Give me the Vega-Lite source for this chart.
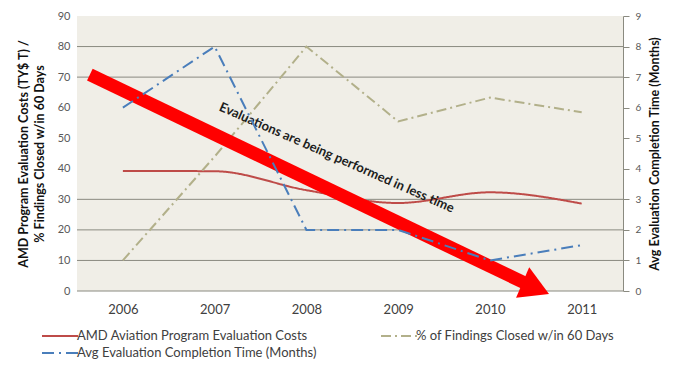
{
  "$schema": "https://vega.github.io/schema/vega-lite/v6.json",
  "width": 546,
  "height": 275,
  "autosize": {"type": "none"},
  "padding": {"left": 77, "top": 16, "right": 56, "bottom": 74},
  "background": "white",
  "config": {"view": {"fill": "#f0eee7", "stroke": null}, "font": "Lato"},
  "datasets": {
    "series": [
      {"year": 2006, "series": "AMD Aviation Program Evaluation Costs", "value": 39.3},
      {"year": 2007, "series": "AMD Aviation Program Evaluation Costs", "value": 39.2},
      {"year": 2008, "series": "AMD Aviation Program Evaluation Costs", "value": 33},
      {"year": 2009, "series": "AMD Aviation Program Evaluation Costs", "value": 28.8},
      {"year": 2010, "series": "AMD Aviation Program Evaluation Costs", "value": 32.3},
      {"year": 2011, "series": "AMD Aviation Program Evaluation Costs", "value": 28.6},
      {"year": 2006, "series": "% of Findings Closed w/in 60 Days", "value": 10},
      {"year": 2007, "series": "% of Findings Closed w/in 60 Days", "value": 44},
      {"year": 2008, "series": "% of Findings Closed w/in 60 Days", "value": 80},
      {"year": 2009, "series": "% of Findings Closed w/in 60 Days", "value": 55.5},
      {"year": 2010, "series": "% of Findings Closed w/in 60 Days", "value": 63.3},
      {"year": 2011, "series": "% of Findings Closed w/in 60 Days", "value": 58.5},
      {"year": 2006, "series": "Avg Evaluation Completion Time (Months)", "value": 6},
      {"year": 2007, "series": "Avg Evaluation Completion Time (Months)", "value": 8},
      {"year": 2008, "series": "Avg Evaluation Completion Time (Months)", "value": 2},
      {"year": 2009, "series": "Avg Evaluation Completion Time (Months)", "value": 2},
      {"year": 2010, "series": "Avg Evaluation Completion Time (Months)", "value": 1},
      {"year": 2011, "series": "Avg Evaluation Completion Time (Months)", "value": 1.5}
    ],
    "grid": [{"value": 0}, {"value": 10}, {"value": 20}, {"value": 30}, {"value": 70}, {"value": 80}],
    "arrow": [{"year": 2005.64, "value": 70.8, "year2": 2010.5, "value2": 0.9}],
    "note": [{"year": 2008.33, "value": 43.6, "label": "Evaluations are being performed in less time"}]
  },
  "layer": [
    {
      "layer": [
        {
          "data": {"name": "grid"},
          "mark": {"type": "rule", "color": "#8a8a80", "strokeWidth": 1},
          "encoding": {
            "y": {
              "field": "value", "type": "quantitative",
              "scale": {"domain": [0, 90]},
              "axis": {
                "orient": "left", "values": [0, 10, 20, 30, 40, 50, 60, 70, 80, 90], "labelOverlap": false,
                "grid": false, "ticks": false, "domain": false,
                "labelFontSize": 11, "labelColor": "#595959", "labelPadding": 7,
                "title": ["AMD  Program Evaluation Costs (TY$ T) /", "% Findings Closed w/in 60 Days"],
                "titleFontSize": 12.5, "titleFontWeight": "bold", "titleColor": "#111111",
                "titleLineHeight": 16, "titlePadding": 11
              }
            }
          }
        },
        {
          "data": {"name": "series"},
          "transform": [{"filter": "datum.series === 'AMD Aviation Program Evaluation Costs'"}],
          "mark": {"type": "line", "strokeWidth": 2, "interpolate": "monotone"},
          "encoding": {
            "x": {
              "field": "year", "type": "quantitative",
              "scale": {"domain": [2005.5, 2011.45], "nice": false, "zero": false},
              "axis": {
                "values": [2006, 2007, 2008, 2009, 2010, 2011], "format": "d",
                "grid": false, "ticks": false, "domain": false,
                "labelFontSize": 13, "labelColor": "#404040", "labelPadding": 12, "title": null
              }
            },
            "y": {
              "field": "value", "type": "quantitative",
              "axis": {
                "orient": "left", "values": [0, 10, 20, 30, 40, 50, 60, 70, 80, 90], "labelOverlap": false,
                "grid": false, "ticks": false, "domain": false,
                "labelFontSize": 11, "labelColor": "#595959", "labelPadding": 7,
                "title": ["AMD  Program Evaluation Costs (TY$ T) /", "% Findings Closed w/in 60 Days"],
                "titleFontSize": 12.5, "titleFontWeight": "bold", "titleColor": "#111111",
                "titleLineHeight": 16, "titlePadding": 11
              }
            },
            "color": {
              "field": "series", "type": "nominal",
              "scale": {
                "domain": ["AMD Aviation Program Evaluation Costs", "% of Findings Closed w/in 60 Days", "Avg Evaluation Completion Time (Months)"],
                "range": ["#be4b48", "#b2b08a", "#4a7ebb"]
              },
              "legend": {
                "orient": "none", "legendX": -27, "legendY": 310, "columns": 2,
                "direction": "horizontal",
                "symbolType": "M-2,0H2", "symbolSize": 324, "symbolStrokeWidth": 2,
                "labelFontSize": 13, "labelColor": "#404040", "labelOffset": 7, "labelLimit": 400,
                "columnPadding": 60, "rowPadding": 0, "title": null
              }
            },
            "strokeDash": {
              "field": "series", "type": "nominal",
              "scale": {
                "domain": ["AMD Aviation Program Evaluation Costs", "% of Findings Closed w/in 60 Days", "Avg Evaluation Completion Time (Months)"],
                "range": [[1, 0], [10, 4, 2, 4], [12, 5, 2, 5]]
              }
            }
          }
        },
        {
          "data": {"name": "series"},
          "transform": [{"filter": "datum.series === '% of Findings Closed w/in 60 Days'"}],
          "mark": {"type": "line", "strokeWidth": 2},
          "encoding": {
            "x": {"field": "year", "type": "quantitative"},
            "y": {
              "field": "value", "type": "quantitative",
              "axis": {
                "orient": "left", "values": [0, 10, 20, 30, 40, 50, 60, 70, 80, 90], "labelOverlap": false,
                "grid": false, "ticks": false, "domain": false,
                "labelFontSize": 11, "labelColor": "#595959", "labelPadding": 7,
                "title": ["AMD  Program Evaluation Costs (TY$ T) /", "% Findings Closed w/in 60 Days"],
                "titleFontSize": 12.5, "titleFontWeight": "bold", "titleColor": "#111111",
                "titleLineHeight": 16, "titlePadding": 11
              }
            },
            "color": {"field": "series", "type": "nominal"},
            "strokeDash": {"field": "series", "type": "nominal"}
          }
        },
        {
          "data": {"name": "arrow"},
          "mark": {"type": "rule", "color": "#ff0000", "strokeWidth": 13, "strokeCap": "butt"},
          "encoding": {
            "x": {"field": "year", "type": "quantitative"},
            "y": {
              "field": "value", "type": "quantitative",
              "axis": {
                "orient": "left", "values": [0, 10, 20, 30, 40, 50, 60, 70, 80, 90], "labelOverlap": false,
                "grid": false, "ticks": false, "domain": false,
                "labelFontSize": 11, "labelColor": "#595959", "labelPadding": 7,
                "title": ["AMD  Program Evaluation Costs (TY$ T) /", "% Findings Closed w/in 60 Days"],
                "titleFontSize": 12.5, "titleFontWeight": "bold", "titleColor": "#111111",
                "titleLineHeight": 16, "titlePadding": 11
              }
            },
            "x2": {"field": "year2"},
            "y2": {"field": "value2"}
          }
        },
        {
          "data": {"name": "arrow"},
          "mark": {"type": "point", "shape": "triangle-right", "size": 1100, "angle": 23.3, "filled": true, "color": "#ff0000", "opacity": 1},
          "encoding": {
            "x": {"field": "year2", "type": "quantitative"},
            "y": {
              "field": "value2", "type": "quantitative",
              "axis": {
                "orient": "left", "values": [0, 10, 20, 30, 40, 50, 60, 70, 80, 90], "labelOverlap": false,
                "grid": false, "ticks": false, "domain": false,
                "labelFontSize": 11, "labelColor": "#595959", "labelPadding": 7,
                "title": ["AMD  Program Evaluation Costs (TY$ T) /", "% Findings Closed w/in 60 Days"],
                "titleFontSize": 12.5, "titleFontWeight": "bold", "titleColor": "#111111",
                "titleLineHeight": 16, "titlePadding": 11
              }
            }
          }
        },
        {
          "data": {"name": "note"},
          "mark": {"type": "text", "angle": 23.7, "fontWeight": "bold", "fontSize": 13, "color": "#1e1e1e", "align": "center", "baseline": "middle"},
          "encoding": {
            "x": {"field": "year", "type": "quantitative"},
            "y": {
              "field": "value", "type": "quantitative",
              "axis": {
                "orient": "left", "values": [0, 10, 20, 30, 40, 50, 60, 70, 80, 90], "labelOverlap": false,
                "grid": false, "ticks": false, "domain": false,
                "labelFontSize": 11, "labelColor": "#595959", "labelPadding": 7,
                "title": ["AMD  Program Evaluation Costs (TY$ T) /", "% Findings Closed w/in 60 Days"],
                "titleFontSize": 12.5, "titleFontWeight": "bold", "titleColor": "#111111",
                "titleLineHeight": 16, "titlePadding": 11
              }
            },
            "text": {"field": "label"}
          }
        }
      ]
    },
    {
      "data": {"name": "series"},
      "transform": [{"filter": "datum.series === 'Avg Evaluation Completion Time (Months)'"}],
      "mark": {"type": "line", "strokeWidth": 2},
      "encoding": {
        "x": {"field": "year", "type": "quantitative"},
        "y": {
          "field": "value", "type": "quantitative",
          "scale": {"domain": [0, 9]},
          "axis": {
            "orient": "right",
            "values": [0, 1, 2, 3, 4, 5, 6, 7, 8, 9],
            "grid": false, "domain": true, "domainColor": "#8a8a80",
            "ticks": true, "tickSize": 6, "tickColor": "#8a8a80",
            "labelFontSize": 10, "labelColor": "#595959", "labelPadding": 6,
            "title": "Avg Evaluation Completion Time (Months)",
            "titleAngle": -90, "titleBaseline": "top", "titleFontSize": 12.5, "titleFontWeight": "bold", "titleColor": "#111111",
            "titlePadding": 8
          }
        },
        "color": {"field": "series", "type": "nominal"},
        "strokeDash": {"field": "series", "type": "nominal"}
      }
    }
  ],
  "resolve": {"scale": {"y": "independent"}}
}
